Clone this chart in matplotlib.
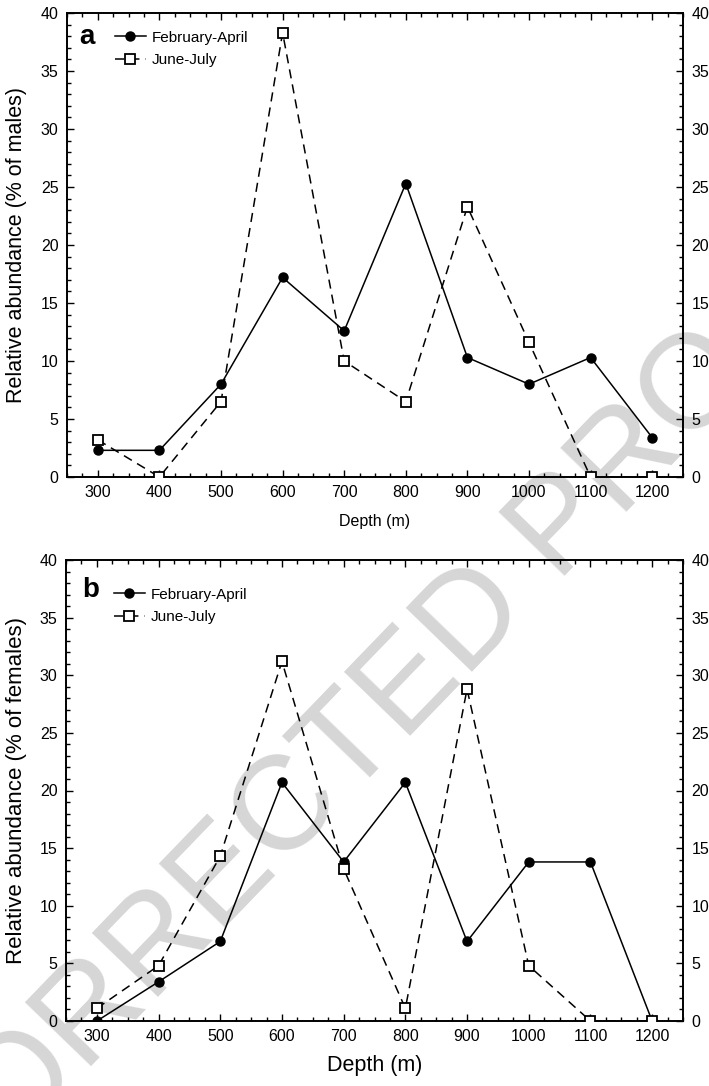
import numpy as np
import matplotlib
matplotlib.use("Agg")
import matplotlib.pyplot as plt
from matplotlib.ticker import MultipleLocator

plt.rcParams['font.family'] = ['Liberation Sans', 'DejaVu Sans']

depth = [300, 400, 500, 600, 700, 800, 900, 1000, 1100, 1200]

# panel a - males
males_feb_apr = [2.3, 2.3, 8.0, 17.2, 12.6, 25.3, 10.3, 8.0, 10.3, 3.4]
males_jun_jul = [3.2, 0.0, 6.5, 38.3, 10.0, 6.5, 23.3, 11.6, 0.0, 0.0]

# panel b - females
females_feb_apr = [0.0, 3.4, 6.9, 20.7, 13.8, 20.7, 6.9, 13.8, 13.8, 0.0]
females_jun_jul = [1.1, 4.8, 14.3, 31.2, 13.2, 1.1, 28.8, 4.8, 0.0, 0.0]

W, H = 709, 1086
fig = plt.figure(figsize=(W / 100, H / 100), dpi=100)

# watermark behind the axes
fig.text(325 / W, 1 - 775 / H, "UNCORRECTED PROOF", fontsize=96, color='#d6d6d6',
         rotation=46, ha='center', va='center', zorder=0)


def px_axes(l, t, r, b):
    ax = fig.add_axes([l / W, 1 - b / H, (r - l) / W, (b - t) / H])
    ax.set_zorder(1)
    ax.patch.set_alpha(0)
    return ax


def style(ax, ylabel, xlabel_size, ylabel_size, xpad):
    ax.set_xlim(250, 1250)
    ax.set_ylim(0, 40)
    ax.xaxis.set_major_locator(MultipleLocator(100))
    ax.xaxis.set_minor_locator(MultipleLocator(25))
    ax.yaxis.set_major_locator(MultipleLocator(5))
    ax.yaxis.set_minor_locator(MultipleLocator(1))
    ax.tick_params(which='both', direction='in', top=True, right=True,
                   labelright=True, width=1.0, labelsize=11.5, pad=6)
    ax.tick_params(which='major', length=5)
    ax.tick_params(which='minor', length=3)
    for s in ax.spines.values():
        s.set_linewidth(1.4)
    ax.set_xlabel("Depth (m)", fontsize=xlabel_size, labelpad=xpad)
    ax.set_ylabel(ylabel, fontsize=ylabel_size, va='center')
    pos = ax.get_position()
    ax.yaxis.set_label_coords(-(pos.x0 * W - 17) / (pos.width * W), 0.5)


def series(ax, feb, jun, letter, lx, ly, leg_y):
    ax.plot(depth, feb, '-', color='black', lw=1.1, marker='o', ms=6.5,
            mfc='black', mec='black', label='February-April', zorder=3)
    ax.plot(depth, jun, '--', color='black', lw=1.1, dashes=(6, 4), marker='s', ms=6.5,
            mfc='white', mec='black', mew=1.3, label='June-July', zorder=3)
    ax.text(lx, ly, letter, transform=ax.transAxes, fontsize=20,
            fontweight='bold', va='baseline', ha='left')
    ax.legend(loc='upper left', bbox_to_anchor=(0.068, leg_y), frameon=False,
              fontsize=11, handlelength=2.0, handletextpad=0.4, labelspacing=0.55,
              borderaxespad=0)


ax1 = px_axes(67, 13, 683, 477)
series(ax1, males_feb_apr, males_jun_jul, 'a', 0.02, 0.933, 0.975)
style(ax1, "Relative abundance (% of males)", 11.5, 15.5, 10)

ax2 = px_axes(66, 560, 683, 1021)
series(ax2, females_feb_apr, females_jun_jul, 'b', 0.026, 0.92, 0.953)
style(ax2, "Relative abundance (% of females)", 15.5, 16, 8)

fig.savefig("out.png", dpi=100)
